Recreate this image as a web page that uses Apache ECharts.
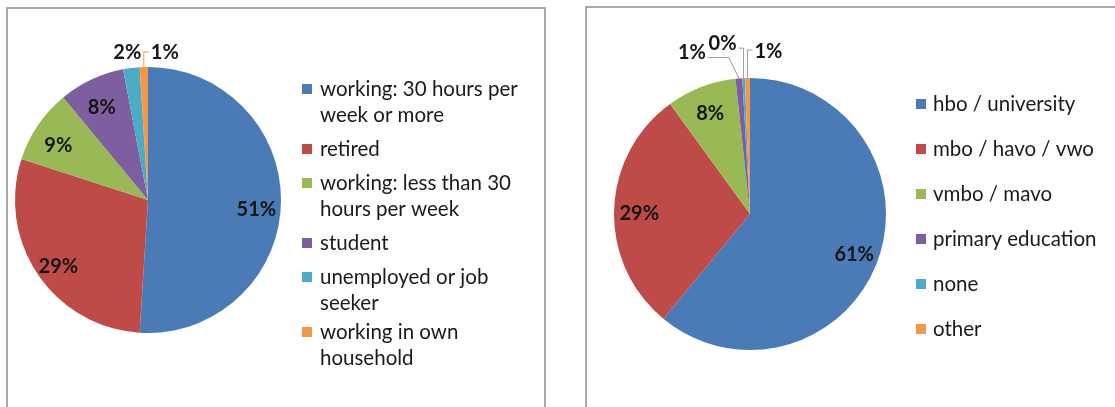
<!DOCTYPE html>
<html>
<head>
<meta charset="utf-8">
<script src="https://cdn.jsdelivr.net/npm/echarts@6/dist/echarts.min.js"></script>
<style>
html,body{margin:0;padding:0;background:#fff;}
#chart{width:1115px;height:407px;}
</style>
</head>
<body>
<div id="chart"></div>
<script>
// ---- data ----
const employmentCategories = [
  'working: 30 hours per\nweek or more',
  'retired',
  'working: less than 30\nhours per week',
  'student',
  'unemployed or job\nseeker',
  'working in own\nhousehold'
];
const employmentValues = [51, 29, 9, 8, 2, 1];

const educationCategories = [
  'hbo / university',
  'mbo / havo / vwo',
  'vmbo / mavo',
  'primary education',
  'none',
  'other'
];
const educationValues = [61, 29, 8.3, 0.8, 0.3, 0.6];

// ---- styling ----
const sliceColors = ['#4a7bb7', '#be4b48', '#98b954', '#7d5fa0', '#4aacc6', '#f59845'];
const FONT = 'Lato';
const leftCenter = [148, 200], leftRadius = 133;
const rightCenter = [750, 214], rightRadius = 136;

// leader-line geometry for the small outside labels (per data index)
const leftLeaders = {
  4: { lift: 16, bend: 0, run: -4, align: 'center', labelDy: 0, line: false },
  5: { lift: 15, bend: 0, run: 5, align: 'left', labelDy: 0, line: true }
};
const rightLeaders = {
  3: { lift: 21, bend: -10, run: -31, align: 'right', labelDy: -5, line: true },
  4: { lift: 30, bend: 0, run: -5, align: 'right', labelDy: -5, line: true },
  5: { lift: 28, bend: 0, run: 5, align: 'left', labelDy: 2, line: true }
};

function makeLabelLayout(center, leaders, shiftY) {
  return function (p) {
    const lead = leaders[p.dataIndex];
    if (!lead) {
      const lx = p.labelRect.x + p.labelRect.width / 2;
      const ly = p.labelRect.y + p.labelRect.height / 2;
      return {
        x: center[0] + (lx - center[0]) * 1.56,
        y: center[1] + (ly - center[1]) * 1.56 + shiftY,
        align: 'center', verticalAlign: 'middle'
      };
    }
    const p0 = p.labelLinePoints[0];
    const p1 = [p0[0] + lead.bend, p0[1] - lead.lift];
    const p2 = [p0[0] + lead.run, p0[1] - lead.lift];
    const gap = lead.align === 'left' ? 2 : (lead.align === 'right' ? -2 : 0);
    return {
      x: p2[0] + gap,
      y: p2[1] + lead.labelDy,
      align: lead.align,
      verticalAlign: 'middle',
      labelLinePoints: [p0, p1, p2]
    };
  };
}

function buildData(names, values, leaders, lineColor) {
  return names.map((n, i) => {
    const item = { name: n, value: values[i], itemStyle: { color: sliceColors[i] } };
    if (leaders[i]) {
      item.label = { position: 'outside' };
      item.labelLine = {
        show: true, length: 8, length2: 4,
        lineStyle: { color: lineColor || sliceColors[i], width: 1, opacity: leaders[i].line ? 1 : 0 }
      };
    } else {
      item.label = { position: 'inside' };
      item.labelLine = { show: false };
    }
    return item;
  });
}

const labelStyle = {
  show: true,
  formatter: p => Math.round(p.percent) + '%',
  fontFamily: FONT, fontWeight: 'bold', fontSize: 20, color: '#141414'
};

// legend icons: square aligned with the first text line
const ICON_H = 36;
const iconTwoLine = 'path://M0,0L10,0L10,10L0,10Z M0,35.99L0.01,35.99L0.01,36L0,36Z';
const iconOneLine = 'path://M0,13L10,13L10,23L0,23Z M0,0L0.01,0L0.01,0.01L0,0.01Z M0,35.99L0.01,35.99L0.01,36L0,36Z';

const chart = echarts.init(document.getElementById('chart'), null, { renderer: 'canvas' });
chart.setOption({
  animation: false,
  backgroundColor: '#ffffff',
  textStyle: { fontFamily: FONT },
  graphic: [
    { type: 'rect', silent: true, z: -10, shape: { x: 7, y: 8, width: 538, height: 440 },
      style: { fill: 'none', stroke: '#8e8e8e', lineWidth: 1.5 } },
    { type: 'rect', silent: true, z: -10, shape: { x: 586, y: 7, width: 560, height: 440 },
      style: { fill: 'none', stroke: '#8e8e8e', lineWidth: 1.5 } }
  ],
  legend: [
    {
      orient: 'vertical', left: 302, top: 76, padding: 0,
      itemWidth: 10, itemHeight: ICON_H, itemGap: 3,
      symbolKeepAspect: false,
      selectedMode: false,
      data: employmentCategories.map(n => ({ name: n, icon: n.indexOf('\n') >= 0 ? iconTwoLine : iconOneLine })),
      textStyle: { fontFamily: FONT, fontSize: 20.5, color: '#1a1a1a', lineHeight: 26, padding: [0, 0, 0, 3] }
    },
    {
      orient: 'vertical', left: 916, top: 91, padding: 0,
      itemWidth: 10, itemHeight: 10, itemGap: 19,
      selectedMode: false,
      icon: 'rect',
      data: educationCategories,
      textStyle: { fontFamily: FONT, fontSize: 20.5, color: '#1a1a1a', lineHeight: 26, padding: [0, 0, 0, 2] }
    }
  ],
  series: [
    {
      type: 'pie', center: leftCenter, radius: leftRadius,
      startAngle: 90, clockwise: true, avoidLabelOverlap: false,
      itemStyle: { borderWidth: 0 },
      label: labelStyle,
      labelLayout: makeLabelLayout(leftCenter, leftLeaders, 6),
      emphasis: { disabled: true },
      data: buildData(employmentCategories, employmentValues, leftLeaders)
    },
    {
      type: 'pie', center: rightCenter, radius: rightRadius,
      startAngle: 90, clockwise: true, avoidLabelOverlap: false,
      itemStyle: { borderWidth: 0 },
      label: labelStyle,
      labelLayout: makeLabelLayout(rightCenter, rightLeaders, 3),
      emphasis: { disabled: true },
      data: buildData(educationCategories, educationValues, rightLeaders, '#9a9a9a')
    }
  ]
});
</script>
</body>
</html>
